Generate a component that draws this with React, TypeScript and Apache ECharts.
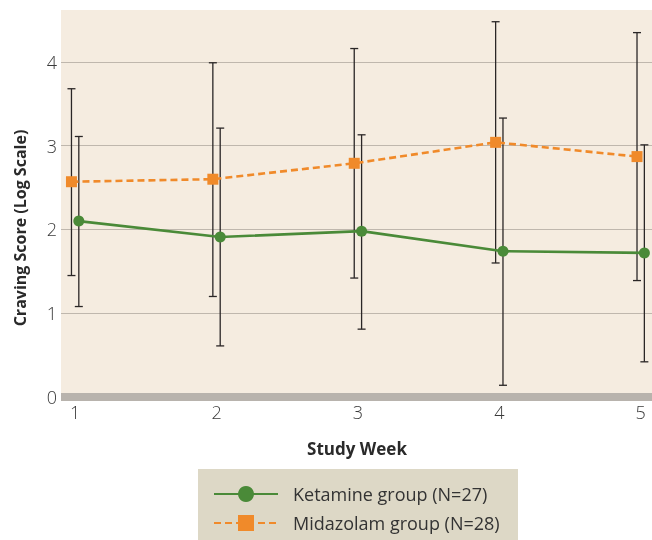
import React, { useEffect, useRef } from "react";
import * as echarts from "echarts";

const weeks = [1, 2, 3, 4, 5];
const xTickLabels = ["1", "2", "3", "4", "5"];
const yTicks = [0, 1, 2, 3, 4];

const ketamineName = "Ketamine group (N=27)";
const ketamineMean = [2.1, 1.91, 1.98, 1.74, 1.72];
const ketamineLow = [1.08, 0.61, 0.81, 0.14, 0.42];
const ketamineHigh = [3.11, 3.21, 3.13, 3.33, 3.01];

const midazolamName = "Midazolam group (N=28)";
const midazolamMean = [2.57, 2.6, 2.79, 3.04, 2.87];
const midazolamLow = [1.45, 1.2, 1.42, 1.6, 1.39];
const midazolamHigh = [3.68, 3.99, 4.16, 4.48, 4.35];

const OFFSET = 0.026;
const FONT = "'Open Sans', Lato, sans-serif";
const GREEN = "#4a8a38";
const ORANGE = "#f08a2a";
const BAR = "#2a2626";

function errorSeries(name: string, lo: number[], hi: number[], dx: number) {
  return {
    name: name + " error",
    type: "custom",
    z: 1,
    silent: true,
    data: weeks.map((w, i) => [w + dx, lo[i], hi[i]]),
    encode: { x: 0, y: [1, 2] },
    renderItem: (params: any, api: any) => {
      const x = api.value(0);
      const top = api.coord([x, api.value(2)]);
      const bot = api.coord([x, api.value(1)]);
      const cap = 4;
      const style = { stroke: BAR, lineWidth: 1.3 };
      return {
        type: "group",
        children: [
          { type: "line", shape: { x1: top[0], y1: top[1], x2: bot[0], y2: bot[1] }, style },
          { type: "line", shape: { x1: top[0] - cap, y1: top[1], x2: top[0] + cap, y2: top[1] }, style },
          { type: "line", shape: { x1: bot[0] - cap, y1: bot[1], x2: bot[0] + cap, y2: bot[1] }, style },
        ],
      };
    },
  };
}

export default function App() {
  const ref = useRef<HTMLDivElement>(null);
  useEffect(() => {
    if (!ref.current) return;
    const chart = echarts.init(ref.current, null, { renderer: "svg" });
    chart.setOption({
      animation: false,
      textStyle: { fontFamily: FONT },
      grid: {
        left: 61,
        right: 0,
        top: 10,
        bottom: 143,
        show: true,
        backgroundColor: "#f5ece0",
        borderWidth: 0,
      },
      xAxis: {
        type: "value",
        min: 0.9,
        max: 5.08,
        splitLine: { show: false },
        axisTick: { show: false },
        axisLine: { show: true, lineStyle: { color: "#b8b3ad", width: 8, cap: "butt" } },
        axisLabel: {
          customValues: weeks,
          formatter: (v: number) => xTickLabels[weeks.indexOf(v)] ?? "",
          color: "#3a3a3a",
          fontSize: 18,
          fontWeight: 300,
          margin: 6,
          fontFamily: FONT,
        },
      },
      yAxis: {
        type: "value",
        min: 0,
        max: 4.62,
        axisLine: { show: false },
        axisTick: { show: false },
        splitLine: {
          show: true,
          lineStyle: {
            color: yTicks.map(() => "#bfb7ad").concat(["rgba(0,0,0,0)"]),
            width: 1.2,
          },
        },
        axisLabel: {
          customValues: yTicks,
          color: "#3a3a3a",
          fontSize: 18,
          fontWeight: 300,
          margin: 4,
          fontFamily: FONT,
        },
      },
      legend: {
        orient: "vertical",
        left: 213,
        top: 484,
        itemWidth: 64,
        itemHeight: 20,
        itemGap: 9,
        padding: 0,
        data: [ketamineName, midazolamName],
        textStyle: {
          color: "#333333",
          fontSize: 18,
          lineHeight: 20,
          fontFamily: FONT,
          padding: [0, 0, 0, 10],
        },
      },
      graphic: [
        {
          type: "rect",
          z: -10,
          shape: { x: 198, y: 469, width: 320, height: 80 },
          style: { fill: "#ddd8c6" },
        },
        {
          type: "text",
          x: 20,
          y: 228,
          rotation: Math.PI / 2,
          style: {
            text: "Craving Score (Log Scale)",
            fill: "#2a2a2a",
            font: `bold 16px ${FONT}`,
            align: "center",
            verticalAlign: "middle",
          },
        },
        {
          type: "text",
          x: 357,
          y: 448,
          style: {
            text: "Study Week",
            fill: "#2a2a2a",
            font: `bold 17px ${FONT}`,
            align: "center",
            verticalAlign: "middle",
          },
        },
      ],
      series: [
        errorSeries(midazolamName, midazolamLow, midazolamHigh, -OFFSET),
        errorSeries(ketamineName, ketamineLow, ketamineHigh, OFFSET),
        {
          name: midazolamName,
          type: "line",
          z: 3,
          data: weeks.map((w, i) => [w - OFFSET, midazolamMean[i]]),
          symbol: "rect",
          symbolSize: 11,
          itemStyle: { color: ORANGE },
          lineStyle: { color: ORANGE, width: 2.6, type: [7, 4] },
        },
        {
          name: ketamineName,
          type: "line",
          z: 3,
          data: weeks.map((w, i) => [w + OFFSET, ketamineMean[i]]),
          symbol: "circle",
          symbolSize: 11,
          itemStyle: { color: GREEN },
          lineStyle: { color: GREEN, width: 2.6 },
        },
      ],
    });
    return () => chart.dispose();
  }, []);
  return (
    <div
      ref={ref}
      style={{ position: "fixed", left: 0, top: 0, width: 652, height: 540 }}
    />
  );
}
